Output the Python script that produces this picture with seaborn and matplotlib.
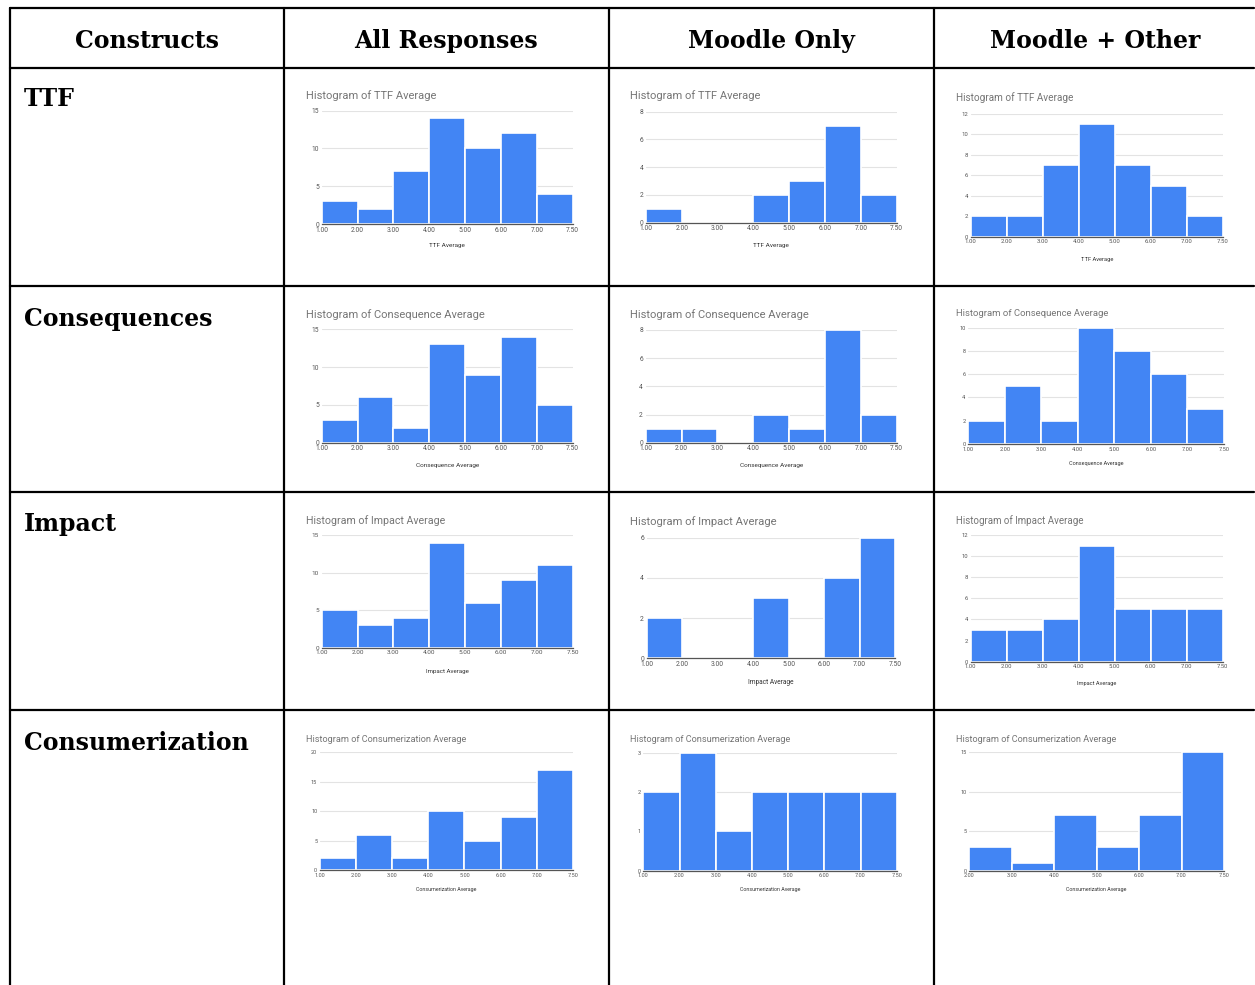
import numpy as np
import matplotlib
matplotlib.use("Agg")
import matplotlib.pyplot as plt
import seaborn as sns
from matplotlib.lines import Line2D

# ------------------------------------------------
# DATA
# ------------------------------------------------
header_labels = ["Constructs", "All Responses", "Moodle Only", "Moodle + Other"]
construct_labels = ["TTF", "Consequences", "Impact", "Consumerization"]
variable_names = ["TTF Average", "Consequence Average", "Impact Average", "Consumerization Average"]

# bin edges as printed under each chart (bins are drawn equally wide, like Google Sheets)
bins_full = [1.0, 2.0, 3.0, 4.0, 5.0, 6.0, 7.0, 7.5]
bins_from2 = [2.0, 3.0, 4.0, 5.0, 6.0, 7.0, 7.5]

ttf_all = [3, 2, 7, 14, 10, 12, 4]
ttf_moodle = [1, 0, 0, 2, 3, 7, 2]
ttf_other = [2, 2, 7, 11, 7, 5, 2]

cons_all = [3, 6, 2, 13, 9, 14, 5]
cons_moodle = [1, 1, 0, 2, 1, 8, 2]
cons_other = [2, 5, 2, 10, 8, 6, 3]

impact_all = [5, 3, 4, 14, 6, 9, 11]
impact_moodle = [2, 0, 0, 3, 0, 4, 6]
impact_other = [3, 3, 4, 11, 5, 5, 5]

consum_all = [2, 6, 2, 10, 5, 9, 17]
consum_moodle = [2, 3, 1, 2, 2, 2, 2]
consum_other = [3, 1, 7, 3, 7, 15]

counts_grid = [
    [ttf_all, ttf_moodle, ttf_other],
    [cons_all, cons_moodle, cons_other],
    [impact_all, impact_moodle, impact_other],
    [consum_all, consum_moodle, consum_other],
]
bins_grid = [
    [bins_full, bins_full, bins_full],
    [bins_full, bins_full, bins_full],
    [bins_full, bins_full, bins_full],
    [bins_full, bins_full, bins_from2],
]
# y axis top and tick step for every small chart
ymax_grid = [[15, 8, 12], [15, 8, 10], [15, 6, 12], [20, 3, 15]]
ystep_grid = [[5, 2, 2], [5, 2, 2], [5, 2, 2], [5, 1, 5]]

# ------------------------------------------------
# LAYOUT (pixels)
# ------------------------------------------------
W, H = 1255, 985
BLUE = "#4285F4"

plot_boxes = [
    [(321.7, 110.7, 572.7, 224.0), (646.0, 111.7, 896.7, 222.7), (970.7, 114.0, 1223.0, 236.7)],
    [(321.7, 329.3, 572.7, 442.7), (645.7, 330.0, 896.7, 442.7), (968.3, 327.7, 1224.0, 444.0)],
    [(321.7, 535.0, 572.7, 647.7), (646.7, 537.7, 895.0, 658.3), (970.7, 535.0, 1222.7, 661.7)],
    [(320.0, 752.3, 572.7, 870.0), (643.3, 752.7, 896.7, 870.7), (969.3, 752.3, 1224.0, 870.7)],
]
title_x = [306, 630, 956]
title_y = [[96, 96, 98], [315, 315, 314], [521, 522, 521], [739, 739, 739]]
title_fs = [[8.0, 8.0, 7.2], [8.0, 8.0, 6.8], [7.7, 8.1, 7.0], [6.6, 6.6, 6.6]]
xlabel_y = [[246, 246, 260], [465, 465, 463], [671, 683, 684], [890, 889, 890]]

col_lines = [10, 284, 609, 934]
row_lines = [8, 68, 286, 492, 710]
table_right = 1254
header_x = [147, 446, 771, 1095]
header_baseline = 48
label_baselines = [106, 326, 531, 750]

sns.set_theme(style="white")
plt.rcParams["font.family"] = ["Roboto", "DejaVu Sans"]

fig = plt.figure(figsize=(W / 100, H / 100), dpi=100)
fig.patch.set_facecolor("white")


def fx(px):
    return px / W


def fy(py):
    return 1 - py / H


# table grid
for x in col_lines:
    fig.add_artist(Line2D([fx(x), fx(x)], [fy(row_lines[0]), fy(H)], transform=fig.transFigure,
                          color="black", lw=1.6))
for y in row_lines:
    fig.add_artist(Line2D([fx(col_lines[0]), fx(table_right)], [fy(y), fy(y)],
                          transform=fig.transFigure, color="black", lw=1.6))

# headers and row labels
for label, x in zip(header_labels, header_x):
    fig.text(fx(x), fy(header_baseline), label, ha="center", va="baseline", color="black",
             fontsize=17, fontweight="heavy", family="DejaVu Serif")
for label, yb in zip(construct_labels, label_baselines):
    fig.text(fx(24), fy(yb), label, ha="left", va="baseline", color="black",
             fontsize=17, fontweight="heavy", family="DejaVu Serif")

# histograms
for r in range(4):
    for c in range(3):
        l, t, rr, b = plot_boxes[r][c]
        ax = fig.add_axes([fx(l), fy(b), fx(rr) - fx(l), (b - t) / H])
        edges = bins_grid[r][c]
        counts = counts_grid[r][c]
        n = len(counts)
        # equal-width slots, one per bin
        slots = list(range(n + 1))
        centers = [i + 0.5 for i in range(n)]
        sns.histplot(x=centers, weights=counts, bins=slots, ax=ax, color=BLUE, alpha=1,
                     edgecolor="white", linewidth=1.2, zorder=3)
        ymax = ymax_grid[r][c]
        step = ystep_grid[r][c]
        ax.set_xlim(0, n)
        ax.set_ylim(0, ymax)
        yt = np.arange(0, ymax + 0.01, step)
        ax.set_yticks(yt)
        ax.set_yticklabels([f"{v:g}" for v in yt])
        ax.set_xticks(slots)
        ax.set_xticklabels([f"{v:.2f}" for v in edges])
        for v in yt[1:]:
            ax.axhline(v, color="#e3e3e3", lw=0.8, zorder=1)
        for s in ["top", "right", "left"]:
            ax.spines[s].set_visible(False)
        ax.spines["bottom"].set_color("#555555")
        ax.spines["bottom"].set_linewidth(0.9)
        ax.spines["bottom"].set_zorder(4)
        ax.set_facecolor("white")
        fs = title_fs[r][c]
        ax.tick_params(axis="both", length=0, labelsize=fs * 0.6, colors="#555555", pad=2)
        ax.set_xlabel("")
        ax.set_ylabel("")
        fig.text(fx(title_x[c]), fy(title_y[r][c]), "Histogram of " + variable_names[r],
                 ha="left", va="center", fontsize=fs, color="#757575")
        fig.text(fx((l + rr) / 2), fy(xlabel_y[r][c]), variable_names[r],
                 ha="center", va="center", fontsize=fs * 0.58, color="#333333")

fig.savefig("out.png", dpi=100, facecolor="white")
